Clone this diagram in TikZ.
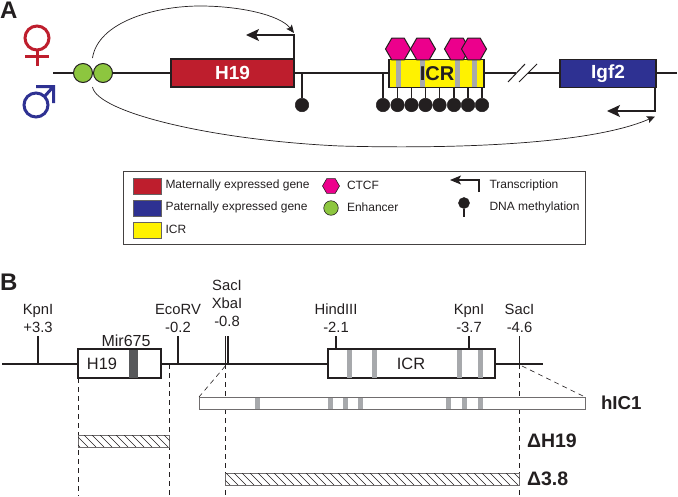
\documentclass[tikz,border=0pt]{standalone}
\usepackage{fontspec}
\setmainfont{Liberation Sans}
\usetikzlibrary{arrows.meta,shapes.geometric}
\definecolor{ink}{HTML}{231F20}
\definecolor{matred}{HTML}{BE1E2D}
\definecolor{patblue}{HTML}{2E3192}
\definecolor{icryellow}{HTML}{FFF200}
\definecolor{enhgreen}{HTML}{8DC63F}
\definecolor{ctcfpink}{HTML}{EC008C}
\definecolor{bargray}{HTML}{A7A9AC}
\definecolor{mirgray}{HTML}{58595B}
\tikzset{
  every node/.style={inner sep=0pt,outer sep=0pt,text=ink,font=\fontsize{12}{14}\selectfont},
  gene/.style={draw=ink,line width=1.3pt,text=white,font=\fontsize{19}{20}\bfseries\selectfont,minimum height=28pt},
  hexa/.style={regular polygon,regular polygon sides=6,draw=ink,line width=1pt,fill=ctcfpink,minimum size=25pt},
  enh/.style={circle,draw=ink,line width=1pt,fill=enhgreen,minimum size=19pt},
  lolli/.style={circle,draw=ink,line width=.5pt,fill=ink,minimum size=13.5pt},
  stem/.style={draw=ink,line width=1.2pt},
  tss/.style={draw=ink,line width=1.4pt,-{Stealth[length=13pt,width=12pt,inset=3pt]}},
  loop/.style={draw=ink,line width=.7pt,-{Stealth[length=8pt,width=7pt,inset=1.5pt]}},
  swatch/.style={draw=ink!70,line width=.8pt,minimum width=28pt,minimum height=16pt},
  lbl/.style={anchor=west},
  site/.style={align=center,font=\fontsize{14.8}{18}\selectfont},
  dna/.style={draw=ink,line width=1.3pt},
  tick/.style={draw=ink,line width=1.2pt},
  wbox/.style={draw=ink,line width=1.3pt,fill=white,minimum height=29pt},
  slim/.style={draw=ink!65,line width=.8pt,fill=white,minimum height=12pt},
  hatchbox/.style={draw=ink!65,line width=1pt,fill=none,minimum height=12pt},
  guide/.style={draw=ink,line width=.6pt,dash pattern=on 5pt off 4pt},
  bigl/.style={anchor=west,font=\fontsize{19.5}{22}\bfseries\selectfont},
  panel/.style={anchor=west,font=\fontsize{24}{26}\bfseries\selectfont}
}
\begin{document}
\begin{tikzpicture}[x=1pt,y=-1pt]
\useasboundingbox (0,0) rectangle (678,496);
% ---------- Panel A
\node[panel] (pa) at (0,10) {A};
% female symbol
\draw[matred,line width=3pt] (37,38) circle (12);
\draw[matred,line width=3pt] (37,50) -- (37,66) (25,56) -- (49,56);
% male symbol
\draw[patblue,line width=3pt] (36,105) circle (12);
\draw[patblue,line width=3pt] (44.5,96.5) -- (53.5,86.5) (36,86.5) -- (53.5,86.5) -- (53.5,103);
% DNA line
\coordinate (dnaS) at (53,73);
\coordinate (dnaE) at (677,73);
\coordinate (gapA) at (516,73);
\coordinate (gapB) at (528,73);
\draw[dna] (dnaS) -- (gapA) (gapB) -- (dnaE);
\draw[draw=ink,line width=1pt] (508,82) -- (525,64) (519,82) -- (537,64);
\node[enh] (e1) at (83,73) {};
\node[enh] (e2) at (103,73) {};
\node[gene,fill=matred,minimum width=123pt] (h19) at (232.5,73) {H19};
\node[gene,fill=patblue,minimum width=96pt] (igf) at (608,73.5) {Igf2};
% ICR
\node[gene,fill=icryellow,minimum width=95pt] (icr) at (436.5,73.5) {};
\foreach \x in {398,422,457,474} \fill[bargray] (\x-2.5,60) rectangle (\x+2.5,87);
\node[text=ink,font=\fontsize{20}{22}\bfseries\selectfont] (icrt) at (437,73.5) {ICR};
% CTCF
\foreach \n/\x in {a/398,b/423,c/457,d/474} \node[hexa] (h\n) at (\x,49) {};
% methylation
\node[lolli] (m0) at (302,105) {};
\draw[stem] (302,73) -- (m0);
\node[lolli] (l0) at (383,105) {};
\draw[stem] (383,73) -- (l0);
\foreach \n/\x in {1/397.5,2/411.5,3/425.5,4/439.5,5/454,6/468,7/482}{
  \node[lolli] (l\n) at (\x,105) {};
  \draw[stem] (\x,87) -- (l\n);
}
% transcription
\coordinate (t1) at (294,35);
\coordinate (t1e) at (246,35);
\draw[tss] (h19.north east) -- (t1) -- (t1e);
\coordinate (t2) at (655,111);
\coordinate (t2e) at (607,111);
\draw[tss] (igf.south east) ++(-1,0) -- (t2) -- (t2e);
% loops
\coordinate (u0) at (92.5,58);
\coordinate (u1) at (294,33);
\coordinate (d0) at (92.5,87);
\coordinate (d1) at (655,116.5);
\draw[loop] (u0) .. controls (98,22) and (155,6) .. (200,6) .. controls (240,6) and (280,15) .. (u1);
\draw[loop] (d0) .. controls (97,112) and (210,140) .. (340,146) .. controls (450,149) and (590,145) .. (d1);
% ---------- Legend
\node[draw=ink!85,line width=.8pt,minimum width=462pt,minimum height=73pt] (leg) at (354,207.5) {};
\node[swatch,fill=matred] (s1) at (147,186) {};
\node[swatch,fill=patblue] (s2) at (147,208) {};
\node[swatch,fill=icryellow] (s3) at (147,230) {};
\node[lbl] (t1l) at (165.5,185.5) {Maternally expressed gene};
\node[lbl] (t2l) at (165.5,207.5) {Paternally expressed gene};
\node[lbl] (t3l) at (165.5,229) {ICR};
\node[hexa,line width=.6pt,minimum size=17pt] (lh) at (331,186) {};
\node[enh,line width=.6pt,minimum size=14.5pt] (le) at (331,208) {};
\node[lbl] (t4l) at (347,185.5) {CTCF};
\node[lbl] (t5l) at (347,207.5) {Enhancer};
\coordinate (ltA) at (479,192);
\coordinate (ltB) at (479,180);
\coordinate (ltC) at (450,180);
\draw[tss,line width=1.2pt,-{Stealth[length=11pt,width=9pt,inset=2.5pt]}] (ltA) -- (ltB) -- (ltC);
\node[lolli,minimum size=11pt] (lp) at (464,203) {};
\coordinate (lpe) at (464,217);
\draw[stem] (lp) -- (lpe);
\node[lbl] (t6l) at (489.5,185.5) {Transcription};
\node[lbl] (t7l) at (489.5,207.5) {DNA methylation};
% ---------- Panel B
\node[panel] (pb) at (0,282) {B};
\coordinate (bS) at (2,364);
\coordinate (bE) at (543,364);
\draw[dna] (bS) -- (bE);
% guides
\coordinate (g1) at (78,496);
\coordinate (g2) at (169.5,496);
\coordinate (g3) at (225.3,496);
\coordinate (g4) at (519.5,496);
\draw[guide] (78,378) -- (g1);
\draw[guide] (169.5,364) -- (g2);
\draw[guide] (225.3,364) -- (g3);
\draw[guide] (519.5,364) -- (g4);
% boxes
\node[wbox,minimum width=83pt] (bh) at (119.5,363.5) {};
\fill[mirgray] (129,349.5) rectangle (138,377.5);
\node[site,anchor=center,font=\fontsize{16.4}{18}\selectfont] (bht) at (102,364) {H19};
\node[site,font=\fontsize{16}{18}\selectfont] (mir) at (126,340.5) {Mir675};
\node[wbox,minimum width=167pt] (bi) at (411.5,363.5) {};
\foreach \x in {349,374,459,480} \fill[bargray] (\x-2.5,349.5) rectangle (\x+2.5,377.5);
\node[site,font=\fontsize{16.4}{18}\selectfont] (bit) at (411,364) {ICR};
% ticks and labels
\node[site,anchor=south] (k1) at (38,332.5) {KpnI\\+3.3};
\node[site,anchor=south] (k2) at (178,332.5) {EcoRV\\-0.2};
\node[site,anchor=south] (k3) at (227,326.5) {SacI\\XbaI\\-0.8};
\node[site,anchor=south] (k4) at (336,332.5) {HindIII\\-2.1};
\node[site,anchor=south] (k5) at (469,332.5) {KpnI\\-3.7};
\node[site,anchor=south] (k6) at (519.5,332.5) {SacI\\-4.6};
\draw[tick] (38,336) -- (38,364);
\draw[tick] (178,336) -- (178,364);
\draw[tick] (225.6,336) -- (225.6,364) (228,336) -- (228,364);
\draw[tick] (336,336) -- (336,349);
\draw[tick] (469,336) -- (469,349);
\draw[tick] (519.5,336) -- (519.5,364);
% hIC1
\node[slim,minimum width=386pt] (hic) at (392,403) {};
\foreach \x in {257.5,330,345,360,448,464,480} \fill[bargray] (\x-2.5,398) rectangle (\x+2.5,408.5);
\draw[guide] (225.3,366) -- (hic.north west);
\draw[guide] (522,366) -- (hic.north east);
\node[bigl,font=\fontsize{18.7}{22}\bfseries\selectfont] (hl) at (601,403) {hIC1};
% hatched boxes
\node[hatchbox,minimum width=91.5pt] (d1b) at (123.75,441) {};
\begin{scope}
\clip (d1b.north west) rectangle (d1b.south east);
\foreach \x in {60,68,...,180} \draw[ink,line width=.5pt] (\x,435) -- (\x+12,447);
\end{scope}
\node[hatchbox,minimum width=294.2pt] (d2b) at (372.4,479) {};
\begin{scope}
\clip (d2b.north west) rectangle (d2b.south east);
\foreach \x in {210,218,...,530} \draw[ink,line width=.5pt] (\x,473) -- (\x+12,485);
\end{scope}
\node[bigl] (dl1) at (527,441) {ΔH19};
\node[bigl] (dl2) at (527,479) {Δ3.8};
\end{tikzpicture}
\end{document}
